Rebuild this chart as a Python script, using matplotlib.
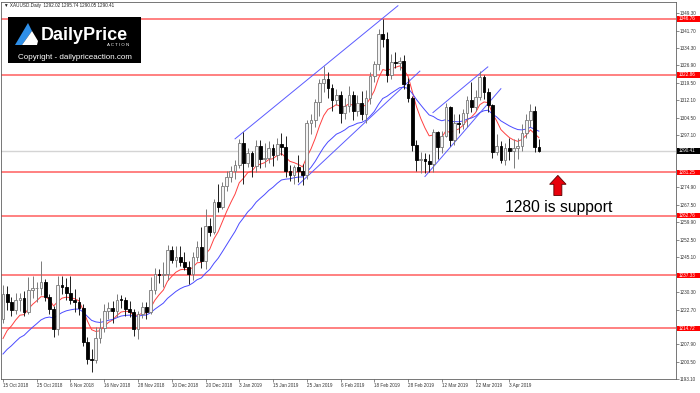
import matplotlib
matplotlib.use('Agg')
import matplotlib.pyplot as plt
import matplotlib.transforms as mtransforms
from matplotlib.patches import Rectangle, Polygon, FancyArrow
import numpy as np
import pandas as pd

plt.rcParams['font.family'] = ['Liberation Sans', 'DejaVu Sans']

# XAUUSD daily candles, 15 Oct 2018 - 12 Apr 2019
opens = [1218.5, 1229.5, 1225.8, 1222.5, 1227.0, 1227.6, 1221.6, 1231.2, 1231.8, 1232.0,
         1234.3, 1228.0, 1223.0, 1214.5, 1233.1, 1232.5, 1229.6, 1226.8, 1226.0, 1223.2,
         1209.0, 1201.5, 1201.0, 1210.8, 1214.8, 1222.0, 1223.2, 1222.0, 1227.0, 1226.8,
         1223.0, 1221.5, 1214.5, 1220.8, 1223.8, 1221.9, 1231.2, 1238.0, 1237.3, 1238.0,
         1248.2, 1244.0, 1245.0, 1243.2, 1241.0, 1238.0, 1245.0, 1249.5, 1243.5, 1258.5,
         1256.0, 1268.5, 1266.5, 1275.5, 1279.5, 1282.0, 1284.5, 1294.0, 1285.5, 1289.5,
         1284.0, 1292.5, 1287.0, 1287.5, 1291.5, 1288.5, 1293.5, 1292.0, 1282.0, 1280.0,
         1283.5, 1282.0, 1280.0, 1302.5, 1303.5, 1311.5, 1319.5, 1321.0, 1317.5, 1312.0,
         1314.5, 1306.5, 1309.5, 1314.5, 1307.5, 1311.0, 1306.0, 1313.0, 1322.5, 1327.5,
         1340.5, 1338.0, 1323.0, 1328.5, 1328.0, 1329.0, 1319.0, 1313.0, 1293.0, 1286.5,
         1287.0, 1286.0, 1285.0, 1298.5, 1292.0, 1297.0, 1309.0, 1295.0, 1302.5, 1302.0,
         1306.5, 1312.0, 1309.0, 1313.5, 1322.0, 1315.5, 1310.0, 1290.0, 1292.5, 1286.5,
         1291.5, 1290.5, 1291.5, 1292.5, 1298.0, 1303.5, 1307.5, 1292.02]
highs = [1233.3, 1233.0, 1228.2, 1229.8, 1230.0, 1230.5, 1236.5, 1237.0, 1234.5, 1243.4,
         1235.8, 1229.5, 1224.2, 1237.2, 1237.2, 1236.0, 1237.0, 1231.3, 1228.3, 1225.0,
         1211.0, 1206.0, 1215.5, 1219.0, 1225.0, 1226.0, 1226.5, 1229.5, 1229.0, 1228.0,
         1226.5, 1223.0, 1222.0, 1226.0, 1226.0, 1236.5, 1240.5, 1240.0, 1243.0, 1250.5,
         1250.0, 1250.0, 1250.0, 1247.5, 1243.5, 1247.5, 1252.0, 1258.0, 1265.5, 1262.0,
         1270.0, 1276.5, 1277.0, 1282.0, 1284.0, 1286.5, 1295.5, 1298.5, 1291.5, 1290.5,
         1295.0, 1295.0, 1294.0, 1294.5, 1293.5, 1296.0, 1298.0, 1297.0, 1284.5, 1284.5,
         1288.5, 1285.0, 1303.5, 1306.0, 1312.5, 1321.0, 1326.5, 1324.0, 1319.0, 1317.0,
         1316.0, 1313.0, 1318.0, 1316.0, 1314.5, 1316.0, 1316.5, 1324.0, 1329.0, 1342.5,
         1346.8, 1341.0, 1332.0, 1332.5, 1330.5, 1331.5, 1321.5, 1314.0, 1295.0, 1290.0,
         1289.5, 1289.0, 1300.0, 1299.0, 1299.0, 1311.0, 1309.5, 1306.0, 1306.0, 1308.5,
         1314.0, 1320.0, 1316.5, 1324.5, 1323.0, 1317.5, 1310.5, 1297.5, 1294.5, 1294.0,
         1296.0, 1295.5, 1296.0, 1302.0, 1306.0, 1310.5, 1309.5, 1295.74]
lows = [1217.2, 1222.5, 1220.0, 1221.0, 1222.0, 1219.9, 1221.0, 1227.8, 1226.0, 1229.0,
        1226.5, 1221.0, 1211.0, 1212.0, 1229.5, 1227.0, 1225.0, 1221.5, 1220.5, 1207.0,
        1199.5, 1196.2, 1200.0, 1208.5, 1213.0, 1218.5, 1217.0, 1219.5, 1223.5, 1220.0,
        1219.5, 1211.5, 1210.0, 1219.0, 1218.5, 1221.0, 1229.5, 1234.0, 1232.5, 1235.5,
        1242.5, 1241.0, 1241.5, 1239.5, 1233.5, 1235.5, 1243.5, 1240.5, 1240.0, 1254.0,
        1255.0, 1264.5, 1265.5, 1273.5, 1277.0, 1278.5, 1283.0, 1276.5, 1283.5, 1279.5,
        1281.5, 1283.0, 1283.5, 1285.5, 1284.0, 1286.5, 1288.5, 1279.5, 1277.5, 1276.5,
        1277.0, 1276.0, 1278.5, 1297.5, 1300.5, 1305.5, 1315.5, 1313.0, 1307.5, 1310.0,
        1302.5, 1304.0, 1307.0, 1303.5, 1305.5, 1303.5, 1302.5, 1310.5, 1320.0, 1325.0,
        1335.0, 1320.0, 1321.0, 1326.0, 1325.0, 1317.0, 1311.5, 1290.5, 1282.0, 1281.0,
        1281.0, 1281.5, 1281.5, 1287.0, 1289.5, 1296.5, 1292.5, 1293.0, 1298.0, 1300.0,
        1300.5, 1307.0, 1307.5, 1312.0, 1312.5, 1307.0, 1287.5, 1288.5, 1285.5, 1284.5,
        1286.5, 1283.0, 1287.0, 1290.5, 1296.0, 1300.5, 1290.0, 1290.05]
closes = [1229.5, 1225.8, 1222.5, 1227.0, 1227.6, 1221.6, 1231.2, 1231.8, 1232.0, 1234.3,
          1228.0, 1223.0, 1214.5, 1233.1, 1232.5, 1229.6, 1226.8, 1226.0, 1223.2, 1209.0,
          1201.5, 1201.0, 1210.8, 1214.8, 1222.0, 1223.2, 1222.0, 1227.0, 1226.8, 1223.0,
          1221.5, 1214.5, 1220.8, 1223.8, 1221.9, 1231.2, 1238.0, 1237.3, 1238.0, 1248.2,
          1244.0, 1245.0, 1243.2, 1241.0, 1238.0, 1245.0, 1249.5, 1243.5, 1258.5, 1256.0,
          1268.5, 1266.5, 1275.5, 1279.5, 1282.0, 1284.5, 1294.0, 1285.5, 1289.5, 1284.0,
          1292.5, 1287.0, 1287.5, 1291.5, 1288.5, 1293.5, 1292.0, 1282.0, 1280.0, 1283.5,
          1282.0, 1280.0, 1302.5, 1303.5, 1311.5, 1319.5, 1321.0, 1317.5, 1312.0, 1314.5,
          1306.5, 1309.5, 1314.5, 1307.5, 1311.0, 1306.0, 1313.0, 1322.5, 1327.5, 1340.5,
          1338.0, 1323.0, 1328.5, 1328.0, 1329.0, 1319.0, 1313.0, 1293.0, 1286.5, 1287.0,
          1286.0, 1285.0, 1298.5, 1292.0, 1297.0, 1309.0, 1295.0, 1302.5, 1302.0, 1306.5,
          1312.0, 1309.0, 1313.5, 1322.0, 1315.5, 1310.0, 1290.0, 1292.5, 1286.5, 1291.5,
          1290.5, 1291.5, 1292.5, 1298.0, 1303.5, 1307.5, 1292.0, 1290.41]

# closes before the visible window, only used to warm up the moving averages
warmup_closes = [1204, 1208, 1194, 1201, 1198, 1203, 1208, 1198, 1199, 1201, 1194, 1183,
                 1192, 1189, 1204, 1198, 1199, 1203, 1188, 1189, 1194, 1225, 1218]

date_labels = ['15 Oct 2018', '25 Oct 2018', '6 Nov 2018', '16 Nov 2018', '28 Nov 2018',
               '10 Dec 2018', '20 Dec 2018', '3 Jan 2019', '15 Jan 2019', '25 Jan 2019',
               '6 Feb 2019', '18 Feb 2019', '28 Feb 2019', '12 Mar 2019', '22 Mar 2019',
               '3 Apr 2019']
price_ticks = [1349.30, 1341.70, 1334.30, 1326.90, 1319.50, 1312.10, 1304.50, 1297.10,
               1289.70, 1282.30, 1274.90, 1267.50, 1259.90, 1252.50, 1245.10, 1237.70,
               1230.30, 1222.70, 1215.30, 1207.90, 1200.50, 1193.10]
# tick labels that sit under a price box are not visible in the chart
hidden_ticks = [1289.70, 1282.30, 1237.70, 1215.30]
levels = [1346.76, 1322.86, 1281.25, 1262.76, 1237.33, 1214.72]
last_price = 1290.41

# trend channels: (bar index start, end), (price start, end)
channels = [([55.0, 93.6], [1295.6, 1352.4]),
            ([70.0, 98.8], [1276.0, 1324.5]),
            ([101.9, 114.9], [1306.8, 1326.3]),
            ([100.0, 118.0], [1279.5, 1317.0])]

n = len(closes)
idx = np.arange(n)
o = np.array(opens); h = np.array(highs); l = np.array(lows); c = np.array(closes)

allc = pd.Series(warmup_closes + closes, dtype=float)
ema_fast = allc.ewm(span=8, adjust=False).mean().values[len(warmup_closes):]
ema_slow = allc.ewm(span=21, adjust=False).mean().values[len(warmup_closes):]

fig = plt.figure(figsize=(7, 3.93), dpi=100)
ax = fig.add_axes([1 / 700, 14 / 393, 675 / 700, 377 / 393])
ax.set_xlim(-0.47, 159.5)
ax.set_ylim(1193.57, 1354.0)

for lv in levels:
    ax.axhline(lv, color='#ff7676', lw=1.3, zorder=1)
ax.axhline(last_price, color='#d4d4d4', lw=1.0, zorder=1)

ax.plot(idx, ema_fast, color='#ff4040', lw=0.7, zorder=2)
ax.plot(idx, ema_slow, color='#4a4aff', lw=0.7, zorder=2)

for xs, ys in channels:
    ax.plot(xs, ys, color='#5a5aff', lw=0.7, zorder=2)

up = c >= o
ax.vlines(idx[up], l[up], h[up], color='#7a7a7a', lw=0.7, zorder=3)
ax.vlines(idx[~up], l[~up], h[~up], color='#202020', lw=0.7, zorder=3)
body = np.maximum(np.abs(c - o), 0.35)
ax.bar(idx[up], body[up], bottom=o[up], width=0.64, color='#f4f4f4',
       edgecolor='#7a7a7a', lw=0.6, zorder=4)
ax.bar(idx[~up], body[~up], bottom=c[~up], width=0.64, color='black',
       edgecolor='black', lw=0.6, zorder=4)

# axes styling (MT4 look)
ax.yaxis.tick_right()
ax.set_yticks(price_ticks)
ax.set_yticklabels(['' if t in hidden_ticks else '%.2f' % t for t in price_ticks])
ax.set_xticks(range(0, 8 * len(date_labels), 8))
ax.set_xticklabels(date_labels, ha='left')
ax.tick_params(axis='both', length=2, width=0.4, labelsize=3.3, colors='#333333', pad=1)
for s in ax.spines.values():
    s.set_color('#606060')
    s.set_linewidth(0.6)

# price boxes on the right axis
tr = mtransforms.blended_transform_factory(ax.transAxes, ax.transData)
for lv in levels:
    ax.add_patch(Rectangle((1.0015, lv - 1.15), 0.034, 2.3, transform=tr,
                           fc='#ff0000', ec='none', clip_on=False, zorder=6))
    ax.text(1.0045, lv, '%.2f' % lv, transform=tr, fontsize=3.3, color='white',
            va='center', ha='left', zorder=7, clip_on=False)
ax.add_patch(Rectangle((1.0015, last_price - 1.15), 0.034, 2.3, transform=tr,
                       fc='black', ec='none', clip_on=False, zorder=6))
ax.text(1.0045, last_price, '%.2f' % last_price, transform=tr, fontsize=3.3,
        color='white', va='center', ha='left', zorder=7, clip_on=False)

# annotation
ax.add_patch(FancyArrow(131.5, 1271.4, 0, 8.6, width=1.9, head_width=3.9,
                        head_length=3.8, length_includes_head=True,
                        fc='#e8000b', ec='#5a0000', lw=0.6, zorder=6))
ax.text(119.0, 1266.3, '1280 is support', fontsize=11.3, color='black',
        va='center', ha='left', zorder=6)

# overlay in pixel coordinates for header and logo
ov = fig.add_axes([0, 0, 1, 1], zorder=5)
ov.set_xlim(0, 700)
ov.set_ylim(393, 0)
ov.axis('off')
ov.text(4, 5.5, '\u25bc XAUUSD.Daily  1292.02 1295.74 1290.05 1290.41', fontsize=3.3,
        color='#222222', va='center', ha='left')
ov.add_patch(Rectangle((8, 17), 133, 46, fc='black', ec='none'))
ov.add_patch(Polygon([(15, 45), (28, 23), (32, 31), (22, 45)], closed=True,
                     fc='#2f8fe8', ec='none'))
ov.add_patch(Polygon([(22, 45), (32, 31), (38, 41), (37, 45)], closed=True,
                     fc='white', ec='none'))
ov.text(41, 35.5, 'DailyPrice', fontsize=13, fontweight='bold', color='white',
        va='center', ha='left')
ov.text(129, 45, 'A C T I O N', fontsize=3.2, color='white', va='center', ha='right')
ov.text(74.5, 57.5, 'Copyright - dailypriceaction.com', fontsize=5.8, color='white',
        va='center', ha='center')

fig.savefig('out.png', dpi=100)
